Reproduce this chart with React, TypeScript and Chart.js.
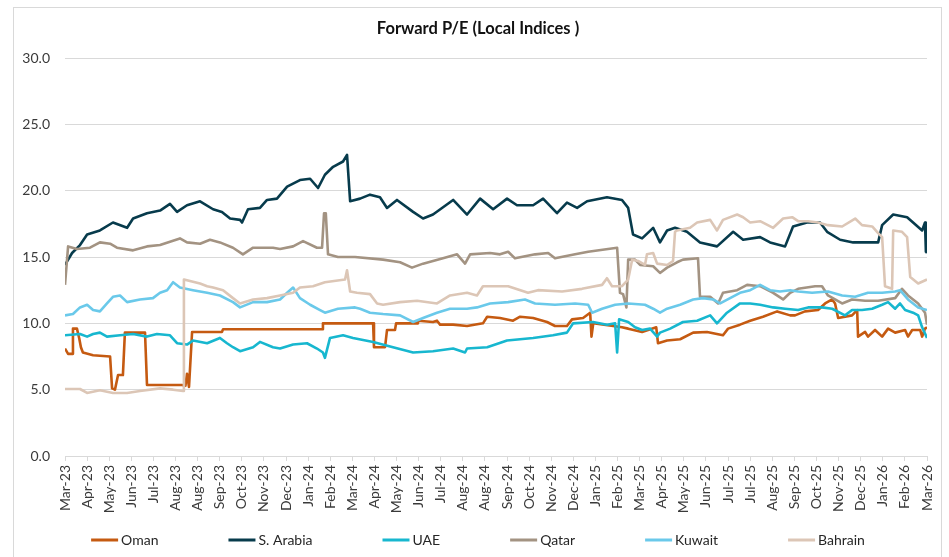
import React, { useEffect, useRef } from "react";
import { Chart, registerables } from "chart.js";

Chart.register(...registerables);

// Axis tick labels (every 28 days from mid-March 2023)
const tickLabels = [
  "Mar-23", "Apr-23", "May-23", "Jun-23", "Jul-23", "Aug-23", "Aug-23", "Sep-23", "Oct-23", "Nov-23",
  "Dec-23", "Jan-24", "Feb-24", "Mar-24", "Apr-24", "May-24", "Jun-24", "Jul-24", "Aug-24", "Aug-24",
  "Sep-24", "Oct-24", "Nov-24", "Dec-24", "Jan-25", "Feb-25", "Mar-25", "Apr-25", "May-25", "Jun-25",
  "Jul-25", "Jul-25", "Aug-25", "Sep-25", "Oct-25", "Nov-25", "Dec-25", "Jan-26", "Feb-26", "Mar-26",
];

const yTicks = [0, 5, 10, 15, 20, 25, 30];

const chartTitle = "Forward P/E (Local Indices )";

const seriesNames = ["Oman", "S. Arabia", "UAE", "Qatar", "Kuwait", "Bahrain"];
const seriesColors = ["#C55A11", "#073B4C", "#17B7CF", "#A39382", "#6AC9EA", "#DCC6B6"];

// [position on tick axis (tick index), forward P/E]
const oman = [[0,8.1],[0.14,7.7],[0.32,7.7],[0.36,9.6],[0.54,9.6],[0.64,8.9],[0.72,8.2],[0.81,7.8],[1.27,7.6],[2.04,7.5],[2.13,5.1],[2.26,5.0],[2.4,6.1],[2.62,6.1],[2.71,9.3],[3.62,9.3],[3.71,5.35],[5.29,5.35],[5.45,5.3],[5.52,6.2],[5.61,5.2],[5.75,9.35],[7.1,9.35],[7.15,9.55],[11.63,9.55],[11.67,10.0],[13.94,10.0],[13.98,8.2],[14.48,8.2],[14.57,9.5],[14.93,9.5],[14.98,10.0],[15.93,10.0],[15.97,10.2],[16.65,10.1],[16.83,10.2],[16.97,9.9],[17.56,9.9],[18.19,9.8],[18.91,10.0],[19.1,10.5],[19.68,10.4],[20.27,10.2],[20.59,10.5],[21.18,10.4],[21.81,10.1],[22.17,9.8],[22.71,9.8],[22.94,10.3],[23.44,10.4],[23.76,10.8],[23.82,9.0],[23.9,10.0],[24.8,9.8],[25.2,9.7],[25.48,9.6],[26.11,9.35],[26.75,9.7],[26.83,8.5],[27.24,8.7],[27.83,8.8],[28.42,9.3],[29.05,9.35],[29.77,9.1],[30.0,9.6],[30.54,9.9],[31.0,10.2],[31.58,10.5],[32.22,10.9],[32.81,10.6],[33.03,10.6],[33.48,10.9],[34.07,11.0],[34.39,11.5],[34.71,11.8],[34.84,11.5],[34.98,10.4],[35.61,10.6],[35.84,11.0],[35.88,9.0],[36.2,9.35],[36.33,9.0],[36.65,9.5],[36.97,9.0],[37.24,9.6],[37.56,9.3],[38.01,9.5],[38.14,9.0],[38.33,9.5],[38.69,9.5],[38.78,9.0],[38.91,9.6],[39,9.7]];

const sArabia = [[0,14.4],[0.32,15.3],[0.68,15.9],[1.0,16.7],[1.58,17.0],[2.17,17.6],[2.81,17.2],[3.08,17.9],[3.71,18.3],[4.3,18.5],[4.75,19.0],[5.07,18.4],[5.52,18.9],[6.11,19.2],[6.7,18.6],[7.1,18.4],[7.47,17.9],[7.92,17.8],[8.01,17.6],[8.28,18.6],[8.82,18.7],[9.14,19.3],[9.59,19.4],[10.05,20.3],[10.63,20.8],[11.09,20.9],[11.45,20.2],[11.76,21.2],[12.13,21.8],[12.58,22.2],[12.76,22.7],[12.9,19.2],[13.35,19.4],[13.8,19.7],[14.25,19.5],[14.57,18.7],[15.02,19.3],[15.75,18.4],[16.2,17.9],[16.65,18.2],[17.56,19.3],[18.19,18.2],[18.78,19.4],[19.37,18.6],[20.0,19.4],[20.45,18.9],[21.18,18.9],[21.63,19.4],[22.26,18.3],[22.71,19.1],[23.17,18.7],[23.62,19.2],[24.52,19.5],[25.2,19.3],[25.48,18.7],[25.7,16.7],[26.11,16.4],[26.61,17.2],[26.92,16.1],[27.24,17.0],[27.6,17.2],[28.14,16.9],[28.73,16.1],[29.5,15.8],[30.23,16.9],[30.68,16.3],[31.45,16.5],[31.9,16.1],[32.58,15.8],[32.94,17.3],[33.57,17.6],[34.16,17.6],[34.48,16.9],[35.07,16.3],[35.66,16.1],[36.29,16.1],[36.79,16.1],[36.97,17.4],[37.47,18.2],[38.1,18.0],[38.37,17.6],[38.78,17.0],[38.91,17.6],[38.95,15.4],[39,15.3]];

const uae = [[0,9.1],[0.68,9.2],[1.0,9.0],[1.27,9.2],[1.58,9.3],[1.9,9.0],[2.49,9.1],[3.08,9.2],[3.71,9.0],[4.16,9.2],[4.75,9.1],[5.07,8.5],[5.52,8.4],[5.79,8.7],[6.43,8.5],[7.01,8.9],[7.33,8.5],[7.6,8.2],[7.92,7.9],[8.51,8.2],[8.82,8.6],[9.41,8.2],[9.73,8.1],[10.32,8.4],[10.95,8.5],[11.4,8.1],[11.67,7.8],[11.76,7.4],[11.99,8.9],[12.58,9.1],[13.03,8.9],[13.94,8.6],[14.84,8.2],[15.75,7.8],[16.65,7.9],[17.56,8.1],[18.1,7.8],[18.19,8.1],[19.1,8.2],[20.0,8.7],[21.18,8.9],[22.08,9.1],[22.71,9.3],[22.99,10.0],[23.89,10.1],[24.52,9.9],[24.89,10.0],[24.98,7.8],[25.07,10.3],[25.48,10.1],[25.79,9.7],[26.11,9.5],[26.47,9.6],[26.79,9.0],[26.92,9.3],[27.38,9.6],[27.96,10.1],[28.6,10.2],[29.19,10.6],[29.5,10.0],[29.95,10.8],[30.54,11.5],[31.0,11.5],[31.45,11.4],[32.04,11.2],[32.58,11.1],[33.17,11.0],[33.62,11.2],[34.25,11.2],[34.71,11.1],[35.29,10.6],[35.61,11.0],[36.06,11.0],[36.52,11.1],[36.97,11.4],[37.24,11.6],[37.56,11.1],[37.78,11.5],[38.01,11.0],[38.37,10.8],[38.6,10.6],[38.78,9.7],[39,8.9]];

const qatar = [[0,12.9],[0.14,15.8],[0.54,15.6],[1.13,15.7],[1.58,16.1],[2.04,16.0],[2.35,15.7],[3.08,15.5],[3.71,15.8],[4.3,15.9],[5.2,16.4],[5.52,16.1],[6.11,16.0],[6.56,16.3],[7.01,16.1],[7.6,15.7],[8.05,15.2],[8.51,15.7],[9.41,15.7],[9.73,15.6],[10.32,15.8],[10.77,16.2],[11.4,15.7],[11.63,15.7],[11.72,18.3],[11.8,18.3],[11.9,15.2],[12.35,15.0],[13.12,15.0],[14.39,14.8],[15.16,14.6],[15.7,14.2],[16.2,14.5],[17.1,14.9],[17.74,15.2],[18.1,14.5],[18.33,15.2],[19.23,15.3],[19.68,15.2],[20.05,15.4],[20.36,14.9],[21.27,15.2],[21.86,15.3],[22.17,14.9],[23.08,15.2],[23.67,15.4],[24.57,15.6],[24.98,15.7],[25.11,12.3],[25.25,12.2],[25.4,11.2],[25.48,14.8],[25.79,14.8],[26.02,14.4],[26.61,14.3],[26.92,13.8],[27.24,14.2],[27.69,14.6],[27.96,14.8],[28.64,14.9],[28.73,12.0],[29.19,12.0],[29.55,11.5],[29.77,12.3],[30.41,12.5],[30.86,12.9],[31.45,12.8],[32.04,12.3],[32.49,11.8],[32.81,12.3],[33.17,12.6],[33.94,12.8],[34.25,12.8],[34.52,12.1],[35.16,11.5],[35.61,11.8],[36.2,11.7],[36.79,11.7],[37.56,11.9],[37.87,12.6],[38.14,12.1],[38.6,11.5],[38.91,10.8],[39,9.9]];

const kuwait = [[0,10.6],[0.36,10.7],[0.68,11.2],[1.0,11.4],[1.27,11.0],[1.58,10.9],[1.9,11.5],[2.17,12.0],[2.49,12.1],[2.81,11.6],[3.39,11.8],[3.98,11.9],[4.3,12.3],[4.62,12.5],[4.89,13.1],[5.2,12.7],[5.79,12.5],[6.43,12.3],[7.01,12.1],[7.6,11.6],[7.92,11.2],[8.51,11.6],[9.14,11.6],[9.73,11.8],[10.05,12.3],[10.32,12.7],[10.63,11.9],[11.09,11.4],[11.54,11.0],[11.76,10.8],[12.35,11.1],[13.12,11.2],[13.35,11.1],[13.8,10.8],[14.39,10.7],[15.16,10.6],[15.75,10.1],[16.2,10.4],[16.83,10.8],[17.42,11.1],[18.19,11.1],[18.64,11.2],[19.23,11.5],[20.05,11.6],[20.81,11.8],[21.27,11.5],[22.17,11.4],[23.08,11.5],[23.67,11.4],[23.85,10.8],[24.3,11.1],[24.89,11.4],[25.48,11.5],[26.24,11.4],[26.61,11.1],[26.92,10.8],[27.24,11.1],[27.83,11.4],[28.42,11.8],[28.87,11.9],[29.32,11.8],[29.64,11.5],[30.09,11.9],[30.54,12.3],[31.0,12.5],[31.45,12.9],[31.9,12.5],[32.35,12.4],[32.81,12.5],[33.17,12.4],[33.8,12.3],[34.52,12.4],[35.16,12.1],[35.75,12.0],[36.33,12.3],[36.97,12.3],[37.56,12.4],[37.78,12.5],[38.14,11.8],[38.6,11.2],[39,11.0]];

const bahrain = [[0,5.05],[0.68,5.05],[1.0,4.75],[1.58,4.95],[2.17,4.75],[2.81,4.75],[3.39,4.9],[4.3,5.1],[4.89,5.0],[5.34,4.9],[5.38,13.3],[6.11,13.0],[6.43,12.8],[6.7,12.7],[7.15,12.5],[7.6,11.9],[7.92,11.5],[8.51,11.8],[9.14,11.9],[9.73,12.1],[10.32,12.3],[10.63,12.7],[11.22,12.8],[11.76,13.1],[12.67,13.3],[12.76,14.0],[12.9,12.4],[13.21,12.3],[13.8,12.2],[14.12,11.5],[14.39,11.4],[15.16,11.6],[15.93,11.7],[16.83,11.5],[17.42,12.1],[18.19,12.3],[18.64,12.1],[18.91,12.8],[19.68,12.8],[20.05,12.8],[20.95,12.3],[21.4,12.5],[22.49,12.4],[23.39,12.6],[24.3,12.9],[24.52,13.4],[24.75,12.8],[25.2,12.8],[25.48,13.3],[25.66,14.8],[25.93,14.7],[26.24,14.4],[26.33,15.2],[26.61,15.3],[26.79,14.5],[27.24,14.4],[27.51,14.7],[27.6,16.9],[27.69,17.0],[28.28,17.2],[28.6,17.6],[29.19,17.8],[29.5,17.0],[29.77,17.8],[30.41,18.2],[30.68,18.0],[31.0,17.6],[31.45,17.7],[32.04,17.2],[32.49,17.9],[32.9,18.0],[33.17,17.7],[33.62,17.7],[34.07,17.6],[34.52,17.4],[35.16,17.3],[35.75,17.9],[36.06,17.4],[36.52,17.3],[36.79,16.8],[36.97,16.5],[37.1,12.8],[37.42,12.6],[37.47,17.0],[37.87,16.9],[38.1,16.5],[38.24,13.5],[38.6,13.0],[39,13.3]];

const seriesData = [oman, sArabia, uae, qatar, kuwait, bahrain];

const FONT = "Lato, 'Open Sans', sans-serif";

const titlePlugin = {
  id: "fixedTitle",
  afterDraw(chart: any) {
    const ctx = chart.ctx;
    ctx.save();
    ctx.font = `bold 16.5px ${FONT}`;
    ctx.fillStyle = "#111111";
    ctx.textAlign = "center";
    ctx.textBaseline = "middle";
    ctx.fillText(chartTitle, 478, 29);
    ctx.restore();
  },
};

const legendPlugin = {
  id: "bottomLegend",
  afterDraw(chart: any) {
    const ctx = chart.ctx;
    ctx.save();
    ctx.font = `14px ${FONT}`;
    const lineW = 27;
    const textGap = 3;
    const itemGap = 70;
    const widths = seriesNames.map((n) => ctx.measureText(n).width);
    const total =
      widths.reduce((a, w) => a + lineW + textGap + w, 0) + itemGap * (seriesNames.length - 1);
    let x = 478 - total / 2;
    const y = 540;
    ctx.textBaseline = "middle";
    ctx.textAlign = "left";
    seriesNames.forEach((name, i) => {
      ctx.strokeStyle = seriesColors[i];
      ctx.lineWidth = 3;
      ctx.beginPath();
      ctx.moveTo(x, y);
      ctx.lineTo(x + lineW, y);
      ctx.stroke();
      ctx.fillStyle = "#262626";
      ctx.fillText(name, x + lineW + textGap, y + 0.5);
      x += lineW + textGap + widths[i] + itemGap;
    });
    ctx.restore();
  },
};

export default function App() {
  const canvasRef = useRef<HTMLCanvasElement | null>(null);

  useEffect(() => {
    if (!canvasRef.current) return;
    const chart = new Chart(canvasRef.current, {
      type: "line",
      data: {
        datasets: seriesNames.map((name, i) => ({
          label: name,
          data: seriesData[i].map(([x, y]) => ({ x, y })),
          borderColor: seriesColors[i],
          backgroundColor: seriesColors[i],
          borderWidth: 2.6,
          pointRadius: 0,
          tension: 0,
          fill: false,
          borderJoinStyle: "round" as const,
          order: seriesNames.length - i,
        })),
      },
      options: {
        responsive: false,
        animation: false,
        events: [],
        layout: { padding: { top: 58, right: 22, left: 0, bottom: 0 } },
        plugins: {
          legend: { display: false },
          title: { display: false },
          tooltip: { enabled: false },
        },
        scales: {
          x: {
            type: "linear",
            min: 0,
            max: tickLabels.length - 1,
            afterFit: (scale: any) => {
              scale.height = 101;
            },
            afterBuildTicks: (scale: any) => {
              scale.ticks = tickLabels.map((_, i) => ({ value: i }));
            },
            ticks: {
              stepSize: 1,
              autoSkip: false,
              maxRotation: 90,
              minRotation: 90,
              padding: 4,
              color: "#3a3a3a",
              font: { family: FONT, size: 14 },
              callback: (v: any) => tickLabels[Math.round(Number(v))] ?? "",
            },
            grid: {
              display: true,
              drawOnChartArea: false,
              drawTicks: true,
              tickLength: 5,
              color: "#D9D9D9",
            },
            border: { display: true, color: "#D9D9D9", width: 1 },
          },
          y: {
            min: 0,
            max: 30,
            afterFit: (scale: any) => {
              scale.width = 65;
            },
            afterBuildTicks: (scale: any) => {
              scale.ticks = yTicks.map((v) => ({ value: v }));
            },
            ticks: {
              stepSize: 5,
              padding: 15,
              color: "#3a3a3a",
              font: { family: FONT, size: 14 },
              callback: (v: any) => Number(v).toFixed(1),
            },
            grid: { color: "#D9D9D9", lineWidth: 1, drawTicks: false },
            border: { display: false },
          },
        },
      },
      plugins: [titlePlugin, legendPlugin],
    });
    return () => chart.destroy();
  }, []);

  return (
    <div style={{ position: "absolute", left: 0, top: 0, width: 949, height: 557, background: "#fff", overflow: "hidden" }}>
      <div
        style={{
          position: "absolute",
          left: 13,
          top: 7,
          width: 929,
          height: 600,
          border: "1px solid #D9D9D9",
          boxSizing: "border-box",
          pointerEvents: "none",
        }}
      />
      <canvas ref={canvasRef} width={949} height={557} style={{ position: "absolute", left: 0, top: 0, width: 949, height: 557 }} />
    </div>
  );
}
